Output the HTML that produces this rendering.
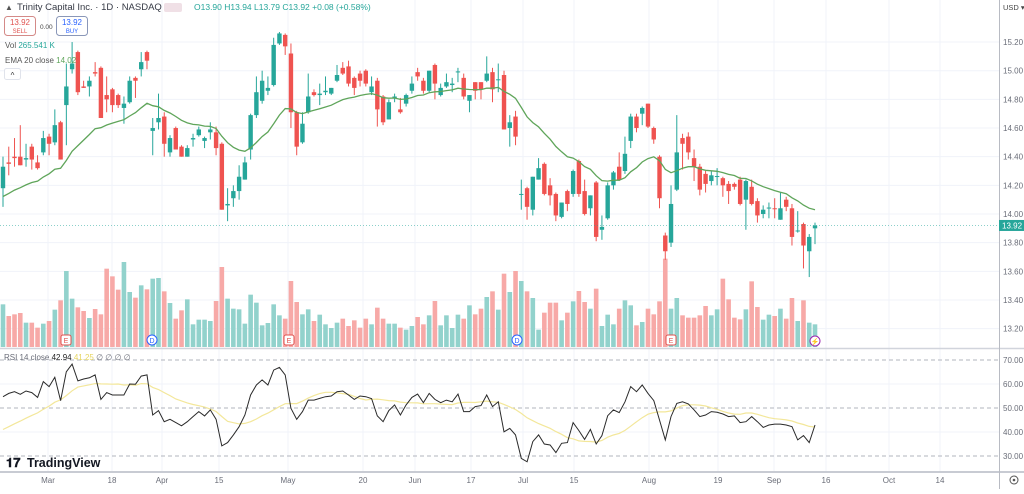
<!DOCTYPE html>
<html><head><meta charset="utf-8">
<style>
html,body{margin:0;padding:0;background:#fff;}
body{width:1024px;height:489px;overflow:hidden;font-family:"Liberation Sans",sans-serif;}
svg text{font-family:"Liberation Sans",sans-serif;}
</style></head>
<body>
<svg id="chart" width="1024" height="489" viewBox="0 0 1024 489" xmlns="http://www.w3.org/2000/svg">
<g id="grid"></g>
<g id="vol"></g>
<g id="candles"></g>
<g id="overlay"></g>
<g id="axes"></g>
</svg>
<script>
const opens=[14.18,14.36,14.40,14.40,14.38,14.47,14.36,14.43,14.54,14.50,14.64,14.76,15.01,15.13,14.89,14.89,14.99,15.02,14.83,14.87,14.83,14.74,14.78,14.95,15.01,15.13,14.58,14.64,14.68,14.43,14.60,14.47,14.40,14.52,14.55,14.51,14.57,14.57,14.49,14.06,14.11,14.16,14.24,14.45,14.69,14.79,14.86,14.90,15.19,15.25,15.12,14.71,14.50,14.71,14.85,14.83,14.85,14.84,14.93,15.02,15.03,14.95,14.98,15.00,14.85,14.93,14.82,14.66,14.81,14.73,14.77,14.86,14.99,14.93,14.86,15.04,14.83,14.89,14.90,14.99,14.95,14.79,14.92,14.92,14.93,14.99,14.94,14.97,14.60,14.68,14.14,14.18,14.03,14.24,14.35,14.20,14.14,13.98,14.16,14.14,14.37,14.16,14.04,14.22,13.89,13.97,14.20,14.33,14.30,14.51,14.68,14.70,14.77,14.60,14.40,13.85,13.80,14.17,14.53,14.54,14.39,14.33,14.28,14.23,14.26,14.25,14.21,14.21,14.24,14.10,14.19,14.09,14.00,14.04,14.04,13.96,14.10,14.04,13.88,13.93,13.74,13.90];
const highs=[14.40,14.47,14.53,14.62,14.49,14.49,14.41,14.58,14.56,14.73,14.65,15.05,15.20,15.14,14.93,14.96,15.06,15.03,14.96,14.88,14.84,14.82,14.96,14.96,15.13,15.14,14.67,14.84,14.71,14.55,14.61,14.48,14.48,14.56,14.61,14.54,14.64,14.61,14.50,14.18,14.20,14.34,14.40,14.70,14.96,15.00,14.96,15.23,15.27,15.26,15.19,14.72,14.71,14.98,14.87,14.91,14.96,14.88,15.04,15.06,15.07,14.96,15.00,15.01,14.96,14.95,14.83,14.80,14.84,14.81,14.84,14.96,15.02,14.95,15.00,15.05,14.91,14.98,14.95,15.02,14.98,14.83,14.92,14.92,15.10,15.02,15.05,15.00,14.69,14.72,14.24,14.19,14.26,14.39,14.36,14.25,14.15,14.08,14.17,14.31,14.38,14.24,14.13,14.23,13.99,14.22,14.30,14.43,14.54,14.70,14.70,14.75,14.77,14.61,14.41,13.87,14.20,14.69,14.56,14.57,14.45,14.35,14.30,14.30,14.32,14.26,14.23,14.22,14.26,14.24,14.24,14.11,14.06,14.08,14.11,14.15,14.12,14.07,14.02,13.94,13.86,13.94];
const lows=[14.05,14.27,14.33,14.34,14.33,14.31,14.31,14.41,14.41,14.48,14.38,14.48,14.98,14.83,14.88,14.82,14.96,14.67,14.71,14.71,14.74,14.63,14.77,14.81,14.96,15.01,14.41,14.59,14.40,14.40,14.45,14.40,14.40,14.47,14.54,14.46,14.52,14.41,14.03,13.95,14.05,14.10,14.24,14.38,14.67,14.77,14.83,14.89,15.18,15.11,14.60,14.41,14.49,14.70,14.82,14.76,14.83,14.83,14.92,14.97,14.89,14.83,14.89,14.89,14.83,14.61,14.62,14.66,14.78,14.70,14.75,14.84,14.93,14.84,14.85,14.80,14.82,14.88,14.85,14.92,14.80,14.71,14.80,14.80,14.92,14.78,14.85,14.59,14.47,14.48,14.03,13.96,13.99,14.24,14.13,14.06,13.95,13.97,14.02,14.12,14.12,13.99,13.99,13.81,13.82,13.96,14.17,14.23,14.28,14.46,14.57,14.62,14.60,14.49,14.04,13.68,13.77,14.16,14.31,14.38,14.23,14.13,14.15,14.20,14.20,14.12,14.07,14.17,14.06,13.89,14.06,13.94,13.97,13.97,13.97,13.96,14.02,13.78,13.87,13.62,13.56,13.79];
const closes=[14.33,14.35,14.39,14.34,14.39,14.38,14.32,14.53,14.49,14.62,14.38,14.89,15.05,14.85,14.88,14.93,14.98,14.67,14.80,14.76,14.76,14.77,14.93,14.93,15.06,15.07,14.60,14.67,14.49,14.53,14.45,14.40,14.46,14.53,14.59,14.53,14.59,14.46,14.03,14.07,14.16,14.26,14.36,14.69,14.85,14.93,14.88,15.18,15.26,15.17,14.71,14.47,14.63,14.82,14.83,14.84,14.86,14.88,14.97,14.98,14.91,14.88,14.93,14.91,14.89,14.73,14.64,14.78,14.82,14.71,14.83,14.91,14.96,14.86,15.00,14.91,14.88,14.92,14.91,14.995,14.82,14.83,14.86,14.87,14.98,14.87,14.94,14.59,14.64,14.54,14.14,14.05,14.26,14.32,14.14,14.13,13.99,14.08,14.07,14.30,14.14,14.00,14.13,13.84,13.91,14.20,14.29,14.24,14.42,14.68,14.60,14.74,14.61,14.52,14.11,13.74,14.07,14.43,14.49,14.43,14.33,14.17,14.21,14.27,14.265,14.20,14.16,14.19,14.07,14.23,14.07,13.99,14.03,14.045,14.035,14.04,14.05,13.84,13.885,13.78,13.84,13.92];
const volumes=[512,372,392,408,292,292,232,280,312,448,560,912,580,476,432,348,456,392,940,848,688,1020,660,592,740,692,820,828,668,528,340,440,572,272,328,328,312,552,960,580,460,452,280,628,532,260,288,512,380,340,792,540,392,452,312,388,272,228,292,340,252,320,232,340,272,472,340,280,280,232,208,252,360,272,380,552,260,380,228,388,340,500,392,460,600,668,448,880,660,912,792,668,588,208,412,532,532,320,412,548,672,540,460,700,252,388,272,460,560,500,260,300,460,392,548,1060,460,588,380,352,352,380,492,380,452,820,572,352,332,452,788,480,328,388,372,460,340,588,312,560,292,272];
const rsiValues=[54.7,56.1,56.8,55.7,57.1,56.4,54.4,61.0,58.9,62.8,53.1,65.1,68.3,61.3,62.1,62.6,63.8,53.6,56.4,55.4,55.4,55.4,60.0,59.9,63.3,63.8,47.1,48.9,44.3,45.3,43.9,42.6,44.3,46.4,48.5,46.7,49.2,45.3,34.2,35.6,38.8,42.2,47.1,55.4,59.6,61.7,59.6,65.8,66.9,63.8,49.9,45.3,48.5,53.3,53.3,54.0,54.7,55.0,56.8,57.1,55.4,53.6,55.0,54.7,53.9,46.7,44.3,48.9,51.3,47.1,51.3,54.4,55.8,52.2,56.1,53.6,52.2,53.3,52.6,55.8,48.5,48.5,50.6,51.0,55.4,50.6,52.6,40.1,41.5,38.8,29.0,27.6,36.0,38.8,35.0,34.6,31.4,35.3,35.6,43.9,40.6,36.9,41.1,35.0,38.5,46.8,49.2,48.1,52.6,58.9,56.8,59.6,56.1,53.1,45.0,36.7,46.4,51.9,52.6,51.7,49.2,46.4,47.1,48.5,48.2,47.5,46.4,46.7,43.9,44.3,46.4,44.3,41.9,42.9,43.3,43.3,42.9,42.2,36.7,38.5,35.6,42.9];
const priceTicks=[15.20,15.00,14.80,14.60,14.40,14.20,14.00,13.80,13.60,13.40,13.20];
const rsiTicks=[70,60,50,40,30];
const timeLabels=["Mar","18","Apr","15","May","20","Jun","17","Jul","15","Aug","19","Sep","16","Oct","14"];
const timeLabelX=[48,112,162,219,288,363,415,471,523,574,649,718,774,826,889,940];
const emaSeed=14.10;
const rsiPriorValue=40;

const NS="http://www.w3.org/2000/svg";
function el(tag,attrs,parent,text){const e=document.createElementNS(NS,tag);for(const k in attrs)e.setAttribute(k,attrs[k]);if(text!==undefined)e.textContent=text;parent.appendChild(e);return e;}
const N=Math.min(opens.length,highs.length,lows.length,closes.length);
const X0=3,X1=815;
const step=(X1-X0)/(N-1);
function xAt(i){return X0+i*step;}
function yP(p){return 214-(p-14)*143.3;}
function yR(r){return 408-(r-50)*2.4;}
function yV(v){return 347-v/12;}
const G=document.getElementById('grid'),V=document.getElementById('vol'),C=document.getElementById('candles'),O=document.getElementById('overlay'),A=document.getElementById('axes');

timeLabelX.forEach(x=>{const l=el('line',{x1:x,x2:x,y1:0,y2:472,stroke:'#f0f3fa','stroke-width':1},G);});
priceTicks.forEach(p=>{const l=el('line',{x1:0,x2:999,y1:yP(p),y2:yP(p),stroke:'#f0f3fa','stroke-width':1},G);});
rsiTicks.forEach(r=>{const dashed=(r%20===10)||r===50;const l=el('line',{x1:0,x2:999,y1:yR(r),y2:yR(r),stroke:dashed?'#b2b5be':'#f0f3fa','stroke-width':1,'stroke-dasharray':dashed?'4,3':'none'},G);});

for(let i=0;i<Math.min(N,volumes.length);i++){
  const up=closes[i]>=opens[i];
  const y=yV(volumes[i]);
  const r=el('rect',{x:xAt(i)-2.3,y:y,width:4.6,height:347-y,fill:up?'#92d2cc':'#f7a9a7'},V);
  
  
}
for(let i=0;i<N;i++){
  const up=closes[i]>=opens[i];const col=up?'#26a69a':'#ef5350';const x=xAt(i);
  const w=el('line',{x1:x,x2:x,y1:yP(highs[i]),y2:yP(lows[i]),stroke:col,'stroke-width':1},C);
  
  
  const t=yP(Math.max(opens[i],closes[i])),b=yP(Math.min(opens[i],closes[i]));
  const r=el('rect',{x:x-2.2,y:t,width:4.4,height:Math.max(1,b-t),fill:col},C);
  
  
}
let ema=emaSeed;const k=2/21;let d='';
for(let i=0;i<N;i++){ema=closes[i]*k+ema*(1-k);d+=(i?'L':'M')+xAt(i).toFixed(1)+','+yP(ema).toFixed(1);}
const emaPath=el('path',{d:d,fill:'none',stroke:'#5fa55a','stroke-width':1.3},O);


const lp=el('line',{x1:0,x2:999,y1:yP(closes[N-1]),y2:yP(closes[N-1]),stroke:'#26a69a','stroke-width':0.8,'stroke-dasharray':'1,2',opacity:0.7},O);


const M=Math.min(N,rsiValues.length);let dr='',dm='';
for(let i=0;i<M;i++){dr+=(i?'L':'M')+xAt(i).toFixed(1)+','+yR(rsiValues[i]).toFixed(1);
  let s=0;for(let j=i-13;j<=i;j++){s+=(j>=0?rsiValues[j]:rsiPriorValue);}
  dm+=(i?'L':'M')+xAt(i).toFixed(1)+','+yR(s/14).toFixed(1);}
const rm=el('path',{d:dm,fill:'none',stroke:'#f3e79a','stroke-width':1.2},O);


const rl=el('path',{d:dr,fill:'none',stroke:'#2a2a2a','stroke-width':1},O);



el('line',{x1:0,x2:1024,y1:348.5,y2:348.5,stroke:'#d1d4dc','stroke-width':1.5},A);
el('line',{x1:0,x2:1024,y1:472,y2:472,stroke:'#c8cbd3','stroke-width':2},A);
el('line',{x1:999.5,x2:999.5,y1:0,y2:489,stroke:'#b8bbc3','stroke-width':1},A);
priceTicks.forEach(p=>{const t=el('text',{x:1003,y:yP(p)+3,'font-size':8,fill:'#6a6d78'},A,p.toFixed(2));});
rsiTicks.forEach(r=>{const t=el('text',{x:1003,y:yR(r)+3,'font-size':8,fill:'#6a6d78'},A,r.toFixed(2));});
timeLabels.forEach((s,i)=>{const t=el('text',{x:timeLabelX[i],y:483,'font-size':8,fill:'#6a6d78','text-anchor':'middle'},A,s);});
const lb=el('rect',{x:999,y:yP(closes[N-1])-5.5,width:25,height:11,fill:'#26a69a'},A);


const lt=el('text',{x:1002,y:yP(closes[N-1])+3,'font-size':8,fill:'#fff'},A,closes[N-1].toFixed(2));


</script>

<svg style="position:absolute;left:0;top:0" width="1024" height="489">
  <text x="5" y="10" font-size="8" fill="#555">▲</text>
  <text x="17" y="10" font-size="9.5" fill="#363a45">Trinity Capital Inc. · 1D · NASDAQ</text>
  <rect x="164" y="3" width="18" height="9" rx="2" fill="#f0e0e6"/>
  <text x="194" y="10" font-size="8.5" fill="#26a69a">O13.90 H13.94 L13.79 C13.92 +0.08 (+0.58%)</text>
  <g>
    <rect x="4.5" y="16.5" width="31" height="19" rx="3" fill="#fff" stroke="#d48a88"/>
    <text x="20" y="25" font-size="8" fill="#e0524f" text-anchor="middle">13.92</text>
    <text x="20" y="33" font-size="6" fill="#e0524f" text-anchor="middle">SELL</text>
  </g>
  <text x="40" y="29" font-size="6.5" fill="#444">0.00</text>
  <g>
    <rect x="56.5" y="16.5" width="31" height="19" rx="3" fill="#fff" stroke="#8a97b8"/>
    <text x="72" y="25" font-size="8" fill="#2962ff" text-anchor="middle">13.92</text>
    <text x="72" y="33" font-size="6" fill="#2962ff" text-anchor="middle">BUY</text>
  </g>
  <text x="5" y="48" font-size="8" fill="#555">Vol <tspan fill="#26a69a">265.541 K</tspan></text>
  <text x="5" y="63" font-size="8" fill="#555">EMA 20 close <tspan fill="#5fa55a">14.02</tspan></text>
  <rect x="4.5" y="68.5" width="16" height="11" rx="2" fill="#fff" stroke="#e0e3eb"/>
  <text x="12.5" y="78" font-size="8" fill="#333" text-anchor="middle">^</text>
  <text x="4" y="360" font-size="8" fill="#6a6d78">RSI 14 close <tspan fill="#222">42.94</tspan> <tspan fill="#e6d560">41.25</tspan> ∅ ∅ ∅ ∅</text>
  <text x="1003" y="10" font-size="7.5" fill="#444">USD ▾</text>
  <g>
    <text x="6" y="467" font-size="13" font-weight="bold" fill="#131722">𝟏𝟕</text>
    <text x="27" y="467" font-size="12.5" font-weight="bold" fill="#131722">TradingView</text>
  </g>
  <g><rect x="61" y="335" width="10" height="10" rx="2" fill="#fff" stroke="#e0524f"/><text x="66" y="343" font-size="7" fill="#e0524f" text-anchor="middle">E</text></g>
  <g><circle cx="152" cy="340" r="5" fill="#fff" stroke="#2962ff"/><text x="152" y="343" font-size="7" fill="#2962ff" text-anchor="middle">D</text></g>
  <g><rect x="284" y="335" width="10" height="10" rx="2" fill="#fff" stroke="#e0524f"/><text x="289" y="343" font-size="7" fill="#e0524f" text-anchor="middle">E</text></g>
  <g><circle cx="517" cy="340" r="5" fill="#fff" stroke="#2962ff"/><text x="517" y="343" font-size="7" fill="#2962ff" text-anchor="middle">D</text></g>
  <g><rect x="666" y="335" width="10" height="10" rx="2" fill="#fff" stroke="#e0524f"/><text x="671" y="343" font-size="7" fill="#e0524f" text-anchor="middle">E</text></g>
  <g><circle cx="815" cy="341" r="5" fill="#fff" stroke="#9c27b0"/><text x="815" y="344" font-size="7" fill="#9c27b0" text-anchor="middle">⚡</text></g>
  <g><circle cx="1014" cy="480" r="4" fill="none" stroke="#555"/><circle cx="1014" cy="480" r="1.3" fill="#555"/></g>
</svg>
</body></html>
